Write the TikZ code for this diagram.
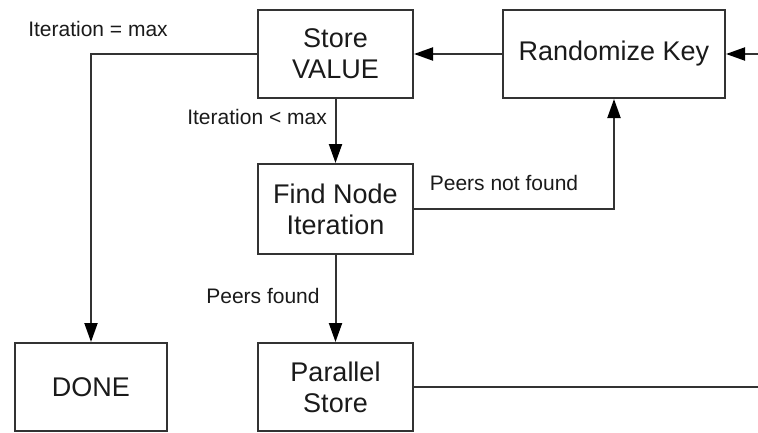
\documentclass[tikz,border=0pt]{standalone}
\usepackage{fontspec}
\setmainfont{Liberation Sans}
\usetikzlibrary{arrows.meta}
\definecolor{ink}{HTML}{333333}
\definecolor{txt}{HTML}{1A1A1A}
\tikzset{
  box/.style={draw=ink, line width=2pt, fill=white, inner sep=0pt,
    align=center, text=txt, font=\fontsize{27}{31}\selectfont},
  lbl/.style={text=txt, inner sep=0pt, font=\fontsize{21}{24}\selectfont},
  flow/.style={draw=ink, line width=2pt},
  arr/.style={flow, -{Triangle[length=19pt,width=13pt,fill=black,color=black]}}
}
\begin{document}
\begin{tikzpicture}[x=1pt,y=-1pt]
  \useasboundingbox (0,0) rectangle (758,432);

  % process boxes
  \node[box, minimum width=155pt, minimum height=88pt] (store) at (335.5,54) {Store\\VALUE};
  \node[box, minimum width=222pt, minimum height=88pt] (rand)  at (614,54)   {Randomize Key};
  \node[box, minimum width=155pt, minimum height=90pt] (find)  at (335.5,209) {Find Node\\Iteration};
  \node[box, minimum width=152pt, minimum height=88pt] (done)  at (91,387)   {DONE};
  \node[box, minimum width=155pt, minimum height=88pt] (par)   at (335.5,387) {Parallel\\Store};

  % loose ends at the right margin
  \coordinate (inR)  at (758,54);
  \coordinate (outR) at (758,387);

  % connectors
  \draw[arr] (inR) -- (rand.east);
  \draw[arr] (rand.west) -- (store.east);
  \draw[arr] (store.west) -| (done.north);
  \draw[arr] (store.south) -- (find.north);
  \draw[arr] (find.east) -| (rand.south);
  \draw[arr] (find.south) -- (par.north);
  \draw[flow] (par.east) -- (outR);

  % edge labels
  \node[lbl] (lmax)   at (98,29)   {Iteration = max};
  \node[lbl, anchor=east] (lless) at (327,117) {Iteration < max};
  \node[lbl] (lnf)    at (504,183) {Peers not found};
  \node[lbl] (lf)     at (263,296) {Peers found};
\end{tikzpicture}
\end{document}
